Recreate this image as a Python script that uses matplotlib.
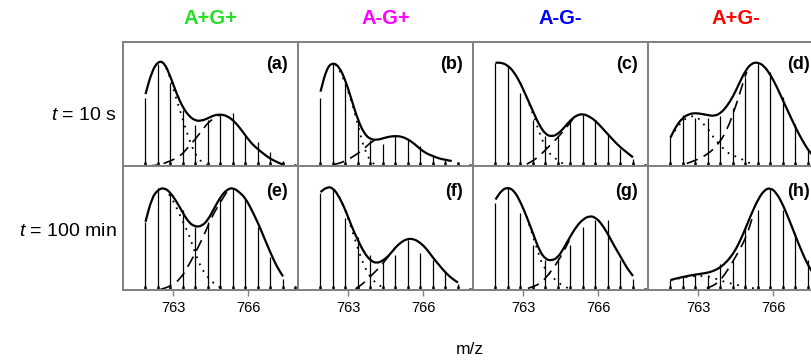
import matplotlib
matplotlib.use("Agg")
import matplotlib.pyplot as plt
from matplotlib.path import Path
from matplotlib.patches import PathPatch

plt.rcParams['font.family'] = ['Liberation Sans', 'DejaVu Sans']
plt.rcParams['mathtext.fontset'] = 'custom'
plt.rcParams['mathtext.it'] = 'Liberation Sans:italic'
plt.rcParams['mathtext.rm'] = 'Liberation Sans'

# ---------------- data ----------------
col_titles = ["A+G+", "A-G+", "A-G-", "A+G-"]
col_colors = ["#22e022", "#ff00ff", "#0000ff", "#ff0000"]
row_labels = ["$t$ = 10 s", "$t$ = 100 min"]
panel_tags = ["(a)", "(b)", "(c)", "(d)", "(e)", "(f)", "(g)", "(h)"]
tick_vals = [763, 766]
tick_labels = ["763", "766"]
x_label = "m/z"

stick_mz = [761.88, 762.38, 762.88, 763.38, 763.88, 764.38, 764.88,
            765.38, 765.88, 766.38, 766.88, 767.38, 767.88]

env_x = [761.9, 762.15, 762.4, 762.65, 762.9, 763.15, 763.4, 763.65, 763.9,
         764.15, 764.4, 764.65, 764.9, 765.15, 765.4, 765.65, 765.9, 766.15,
         766.4, 766.65, 766.9, 767.15, 767.4, 767.65]

# (a) A+G+, t = 10 s
sticks_a = [0.55, 0.82, 0.67, 0.45, 0.33, 0.37, 0.41, 0.43, 0.245, 0.19, 0.11, 0.04, 0.02]
env_a = [0.58, 0.76, 0.845, 0.835, 0.72, 0.58, 0.47, 0.40, 0.365, 0.365, 0.385, 0.41,
         0.416, 0.405, 0.37, 0.314, 0.245, 0.18, 0.135, 0.094, 0.058, 0.033, 0.011]
dot_a_x = [762.55, 762.75, 762.9, 763.15, 763.4, 763.65, 763.9, 764.15, 764.4]
dot_a_y = [0.84, 0.79, 0.70, 0.53, 0.37, 0.21, 0.09, 0.03, 0.0]
dash_a_x = [761.9, 762.4, 762.9, 763.3, 763.6, 763.95, 764.2, 764.5, 764.9]
dash_a_y = [0.0, 0.005, 0.04, 0.08, 0.15, 0.23, 0.30, 0.37, 0.416]

# (b) A-G+, t = 10 s
sticks_b = [0.55, 0.83, 0.67, 0.37, 0.21, 0.18, 0.24, 0.21, 0.16, 0.09, 0.06, 0.03, 0.02]
env_b = [0.60, 0.79, 0.835, 0.80, 0.69, 0.53, 0.37, 0.26, 0.215, 0.21, 0.223, 0.237,
         0.242, 0.237, 0.215, 0.18, 0.134, 0.10, 0.08, 0.06, 0.05, 0.04]
dot_b_x = [762.5, 762.7, 762.88, 763.08, 763.28, 763.41, 763.55, 763.68, 763.81, 763.95, 764.1]
dot_b_y = [0.82, 0.76, 0.67, 0.56, 0.42, 0.32, 0.21, 0.13, 0.07, 0.03, 0.01]
dash_b_x = [762.4, 762.8, 763.2, 763.6, 763.95, 764.3]
dash_b_y = [0.01, 0.03, 0.075, 0.13, 0.2, 0.22]

# (c) A-G-, t = 10 s
sticks_c = [0.83, 0.81, 0.585, 0.37, 0.24, 0.24, 0.36, 0.41, 0.37, 0.25, 0.14, 0.06, 0.02]
env_c = [0.833, 0.833, 0.81, 0.755, 0.667, 0.554, 0.44, 0.33, 0.255, 0.237, 0.258, 0.31,
         0.37, 0.41, 0.42, 0.40, 0.365, 0.31, 0.255, 0.20, 0.15, 0.11, 0.07]
dot_c_x = [762.9, 763.15, 763.4, 763.55, 763.75, 763.9, 764.1, 764.3, 764.5, 764.7]
dot_c_y = [0.667, 0.55, 0.42, 0.33, 0.22, 0.15, 0.09, 0.06, 0.03, 0.01]
dash_c_x = [763.15, 763.55, 763.95, 764.3, 764.7, 765.0]
dash_c_y = [0.015, 0.06, 0.14, 0.21, 0.30, 0.38]

# (d) A+G-, t = 10 s
sticks_d = [0.23, 0.41, 0.39, 0.39, 0.40, 0.465, 0.72, 0.83, 0.76, 0.56, 0.34, 0.13, 0.05]
env_d = [0.23, 0.33, 0.39, 0.42, 0.427, 0.42, 0.41, 0.403, 0.425, 0.48, 0.56, 0.667,
         0.77, 0.83, 0.836, 0.806, 0.734, 0.64, 0.527, 0.42, 0.31, 0.215, 0.13, 0.07]
dot_d_x = [761.9, 762.4, 762.9, 763.08, 763.35, 763.55, 763.64, 763.95, 764.2, 764.55, 764.8, 765.1]
dot_d_y = [0.23, 0.38, 0.41, 0.37, 0.31, 0.26, 0.22, 0.156, 0.10, 0.075, 0.05, 0.02]
dash_d_x = [762.55, 762.95, 763.35, 763.75, 764.15, 764.55, 764.75, 764.95]
dash_d_y = [0.02, 0.05, 0.09, 0.16, 0.28, 0.505, 0.64, 0.76]

# (e) A+G+, t = 100 min
sticks_e = [0.55, 0.82, 0.78, 0.645, 0.51, 0.55, 0.73, 0.82, 0.73, 0.51, 0.27, 0.09, 0.03]
env_e = [0.55, 0.74, 0.81, 0.825, 0.785, 0.71, 0.62, 0.54, 0.51, 0.515, 0.565, 0.66,
         0.75, 0.81, 0.825, 0.79, 0.74, 0.645, 0.54, 0.42, 0.30, 0.19, 0.11]
dot_e_x = [762.65, 762.9, 763.15, 763.4, 763.65, 763.9, 764.15, 764.4, 764.65, 764.9]
dot_e_y = [0.82, 0.76, 0.66, 0.55, 0.44, 0.29, 0.17, 0.10, 0.05, 0.02]
dash_e_x = [762.5, 762.9, 763.3, 763.6, 763.95, 764.3, 764.55, 764.9, 765.15]
dash_e_y = [0.005, 0.03, 0.09, 0.19, 0.32, 0.47, 0.59, 0.71, 0.79]

# (f) A-G+, t = 100 min
sticks_f = [0.78, 0.825, 0.58, 0.43, 0.28, 0.23, 0.28, 0.40, 0.30, 0.24, 0.15, 0.05, 0.02]
env_f = [0.79, 0.83, 0.825, 0.75, 0.645, 0.51, 0.40, 0.30, 0.237, 0.215, 0.237, 0.28,
         0.344, 0.39, 0.414, 0.41, 0.38, 0.33, 0.26, 0.20, 0.14, 0.094, 0.06]
dot_f_x = [762.65, 762.9, 763.15, 763.4, 763.65, 763.9, 764.15, 764.4]
dot_f_y = [0.75, 0.64, 0.49, 0.33, 0.19, 0.10, 0.05, 0.02]
dash_f_x = [763.3, 763.6, 763.95, 764.3, 764.55, 764.9]
dash_f_y = [0.01, 0.05, 0.12, 0.19, 0.255, 0.344]

# (g) A-G-, t = 100 min
sticks_g = [0.70, 0.83, 0.62, 0.36, 0.24, 0.255, 0.36, 0.51, 0.565, 0.565, 0.24, 0.09, 0.02]
env_g = [0.73, 0.806, 0.828, 0.80, 0.71, 0.59, 0.457, 0.32, 0.247, 0.237, 0.263, 0.344,
         0.435, 0.516, 0.57, 0.597, 0.586, 0.532, 0.45, 0.355, 0.27, 0.18, 0.113]
dot_g_x = [763.15, 763.4, 763.6, 763.75, 764.05, 764.3, 764.6, 764.9]
dot_g_y = [0.59, 0.43, 0.31, 0.21, 0.13, 0.08, 0.03, 0.01]
dash_g_x = [763.2, 763.7, 764.0, 764.3, 764.6, 764.85]
dash_g_y = [0.013, 0.05, 0.12, 0.20, 0.30, 0.40]

# (h) A+G-, t = 100 min
sticks_h = [0.08, 0.107, 0.12, 0.12, 0.21, 0.23, 0.50, 0.645, 0.82, 0.645, 0.457, 0.24, 0.08]
env_h = [0.08, 0.094, 0.105, 0.116, 0.124, 0.132, 0.14, 0.156, 0.183, 0.228, 0.29, 0.38,
         0.497, 0.62, 0.73, 0.806, 0.825, 0.78, 0.686, 0.565, 0.435, 0.31, 0.20, 0.12]
dot_h_x = [761.9, 762.4, 762.9, 763.4, 763.65, 764.0, 764.35, 764.7, 765.1, 765.3]
dot_h_y = [0.08, 0.10, 0.115, 0.11, 0.095, 0.07, 0.05, 0.035, 0.02, 0.01]
dash_h_x = [763.35, 763.8, 764.1, 764.35, 764.7, 764.95, 765.2]
dash_h_y = [0.013, 0.054, 0.134, 0.215, 0.336, 0.44, 0.60]

panels = [
    (sticks_a, env_a, dot_a_x, dot_a_y, dash_a_x, dash_a_y),
    (sticks_b, env_b, dot_b_x, dot_b_y, dash_b_x, dash_b_y),
    (sticks_c, env_c, dot_c_x, dot_c_y, dash_c_x, dash_c_y),
    (sticks_d, env_d, dot_d_x, dot_d_y, dash_d_x, dash_d_y),
    (sticks_e, env_e, dot_e_x, dot_e_y, dash_e_x, dash_e_y),
    (sticks_f, env_f, dot_f_x, dot_f_y, dash_f_x, dash_f_y),
    (sticks_g, env_g, dot_g_x, dot_g_y, dash_g_x, dash_g_y),
    (sticks_h, env_h, dot_h_x, dot_h_y, dash_h_x, dash_h_y),
]


def smooth_line(ax, xs, ys, **kw):
    """Draw a line through the read points, rounding the corners with
    quadratic Bezier segments (rendering only)."""
    pts = list(zip(xs, ys))
    if len(pts) < 3:
        ax.plot(xs, ys, **kw)
        return
    verts = [pts[0]]
    codes = [Path.MOVETO]
    mids = [((pts[k][0] + pts[k + 1][0]) / 2, (pts[k][1] + pts[k + 1][1]) / 2)
            for k in range(len(pts) - 1)]
    verts.append(mids[0])
    codes.append(Path.LINETO)
    for k in range(1, len(pts) - 1):
        verts += [pts[k], mids[k]]
        codes += [Path.CURVE3, Path.CURVE3]
    verts.append(pts[-1])
    codes.append(Path.LINETO)
    ax.add_patch(PathPatch(Path(verts, codes), fill=False, transform=ax.transData, **kw))


# ---------------- layout ----------------
W, H = 812, 362
fig = plt.figure(figsize=(W / 100, H / 100), dpi=100)

col_left = [123, 298, 473, 648]
col_w = 175
row_top = [42, 166]
row_h = 124
spine_col = "#808080"

for i, (sticks, env, dx, dy, hx, hy) in enumerate(panels):
    r, c = divmod(i, 4)
    left = col_left[c] / W
    bottom = 1 - (row_top[r] + row_h) / H
    ax = fig.add_axes([left, bottom, col_w / W, row_h / H])
    ax.set_xlim(761.0, 768.0)
    ax.set_ylim(0, 1)
    # sticks
    ax.vlines(stick_mz, 0, sticks, color="black", lw=0.9)
    ax.vlines(stick_mz, 0, [min(0.03, s) for s in sticks], color="black", lw=1.8)
    # components and envelope
    smooth_line(ax, dx, dy, edgecolor="black", lw=1.3, linestyle=(0, (1, 3.2)))
    smooth_line(ax, hx, hy, edgecolor="black", lw=1.2, linestyle=(0, (7, 4)))
    smooth_line(ax, env_x[:len(env)], env, edgecolor="black", lw=1.6, joinstyle="round")
    for s in ax.spines.values():
        s.set_color(spine_col)
        s.set_linewidth(1.4)
    ax.set_yticks([])
    if r == 1:
        ax.set_xticks(tick_vals)
        ax.set_xticklabels(tick_labels, fontsize=10.5)
        ax.tick_params(axis="x", direction="out", length=4, width=1, color=spine_col, pad=4)
    else:
        ax.set_xticks([])
    tag_x = 0.925 if c == 3 else 0.945
    tag_y = 0.815 if r == 0 else 0.795
    ax.text(tag_x, tag_y, panel_tags[i], transform=ax.transAxes, ha="right", va="center",
            fontsize=13, fontweight="bold")

for c in range(4):
    fig.text((col_left[c] + col_w / 2) / W, 1 - 19 / H, col_titles[c], color=col_colors[c],
             ha="center", va="center", fontsize=14.5, fontweight="bold")

fig.text(117 / W, 1 - 115 / H, row_labels[0], ha="right", va="center", fontsize=14)
fig.text(117 / W, 1 - 231 / H, row_labels[1], ha="right", va="center", fontsize=14)
fig.text(470 / W, 1 - 350 / H, x_label, ha="center", va="center", fontsize=12.5)

fig.savefig("out.png", dpi=100)
